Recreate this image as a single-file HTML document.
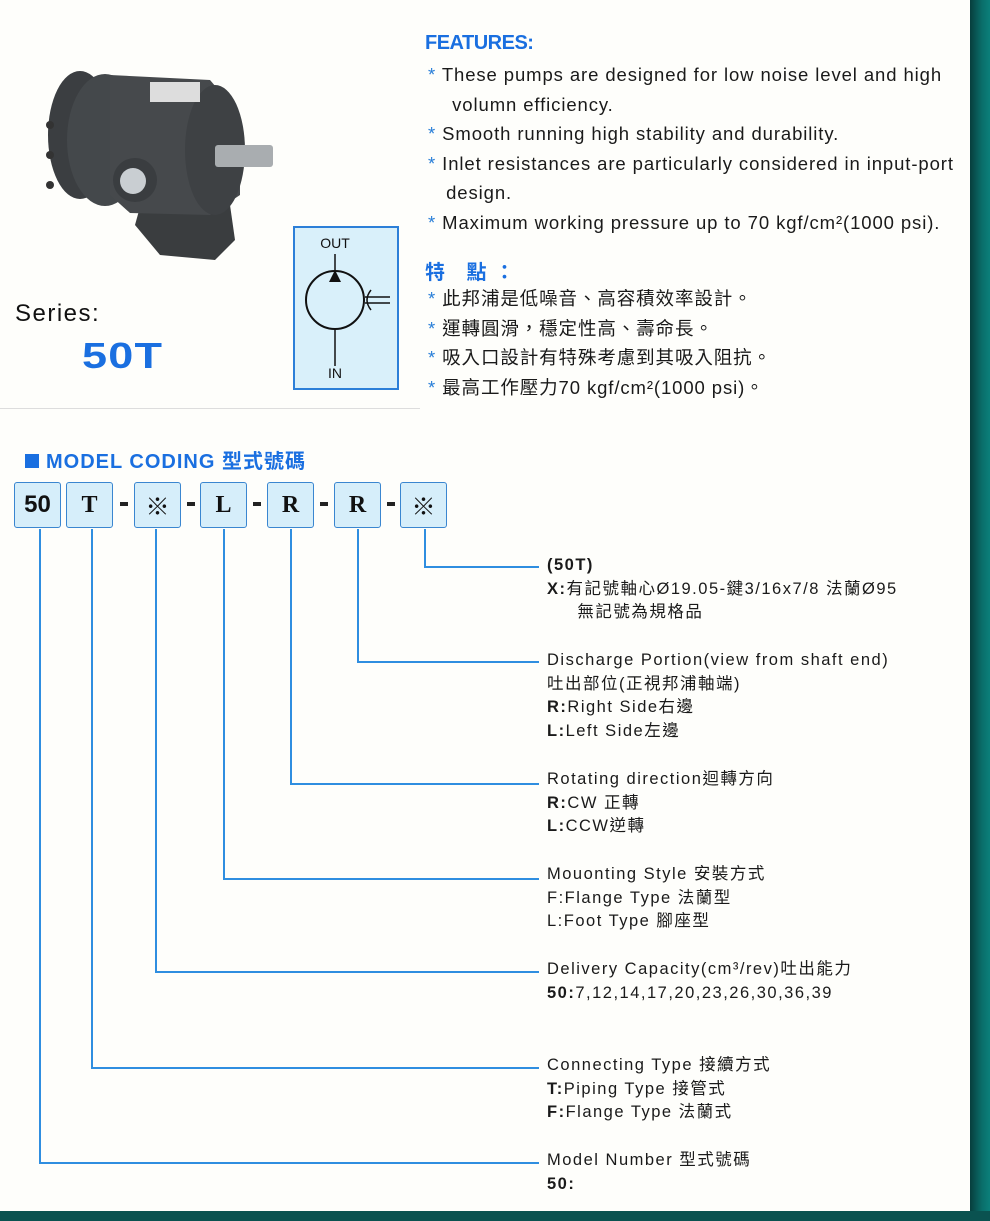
<!DOCTYPE html>
<html><head><meta charset="utf-8"><style>
body{margin:0;width:990px;height:1221px;position:relative;background:#0b5a57;overflow:hidden;font-family:"Liberation Sans","Noto Sans CJK TC",sans-serif;}
#page{position:absolute;left:0;top:0;width:970px;height:1211px;background:#fefefb;}
#rb{position:absolute;left:970px;top:0;width:20px;height:1221px;background:linear-gradient(90deg,#073e3d,#0a6e6a 60%,#0b7f7a);}
#bb{position:absolute;left:0;top:1211px;width:990px;height:10px;background:#0a5250;}
.a{position:absolute;white-space:nowrap;}
.f{font-size:18.5px;letter-spacing:0.9px;color:#1a1a1a;line-height:29.5px;}
.st{color:#2a7fd8;}
.box{position:absolute;top:482px;width:45px;height:44px;border:1.5px solid #3a86d0;border-radius:3px;background:#d6eefa;font:bold 24px "Liberation Serif",serif;text-align:center;line-height:44px;color:#111;}
.dash{position:absolute;top:502px;width:8px;height:4px;background:#222;}
.v{position:absolute;width:1.5px;background:#2f8ee0;}
.h{position:absolute;height:1.5px;background:#2f8ee0;}
.lb{position:absolute;left:547px;font-size:16.5px;letter-spacing:1.5px;line-height:23.7px;color:#1a1a1a;white-space:nowrap;}
</style></head><body>
<div id="page"></div><div id="rb"></div><div id="bb"></div>
<div class="a" style="left:0;top:408px;width:420px;height:1px;background:#ddd"></div>

<svg class="a" style="left:40px;top:55px" width="240" height="210" viewBox="0 0 240 210">
 <path d="M95 170 L100 152 L150 140 L190 150 L195 185 L175 205 L120 200 Z" fill="#3a3d3f"/>
 <ellipse cx="40" cy="80" rx="32" ry="64" fill="#3b3e41"/>
 <ellipse cx="65" cy="85" rx="38" ry="66" fill="#44484b"/>
 <path d="M70 20 L170 25 L200 60 L200 140 L170 160 L90 158 L70 140Z" fill="#46494c"/>
 <ellipse cx="175" cy="95" rx="30" ry="65" fill="#3e4144"/>
 <rect x="110" y="27" width="50" height="20" fill="#ddd"/>
 <rect x="175" y="90" width="58" height="22" rx="3" fill="#a9adb0"/>
 <circle cx="95" cy="125" r="22" fill="#3a3d40"/>
 <circle cx="93" cy="126" r="13" fill="#c9ced2"/>
 <circle cx="10" cy="70" r="4" fill="#333"/><circle cx="10" cy="100" r="4" fill="#333"/><circle cx="10" cy="130" r="4" fill="#333"/>
</svg>
<div class="a" style="left:15px;top:300px;font-size:24px;letter-spacing:1.5px;color:#111;">Series:</div>
<div class="a" style="left:82px;top:335px;font:bold 36px 'Liberation Sans',sans-serif;letter-spacing:1px;color:#1a6fe0;transform:scaleX(1.25);transform-origin:left">50T</div>

<svg class="a" style="left:293px;top:226px" width="107" height="165">
 <rect x="1" y="1" width="104" height="162" fill="#d9f0fa" stroke="#2c7fd8" stroke-width="2"/>
 <text x="42" y="22" font-family="Liberation Sans" font-size="14" text-anchor="middle" fill="#111">OUT</text>
 <text x="42" y="152" font-family="Liberation Sans" font-size="14" text-anchor="middle" fill="#111">IN</text>
 <line x1="42" y1="28" x2="42" y2="44" stroke="#111" stroke-width="1.5"/>
 <line x1="42" y1="104" x2="42" y2="140" stroke="#111" stroke-width="1.5"/>
 <circle cx="42" cy="74" r="29" fill="none" stroke="#111" stroke-width="2"/>
 <path d="M36 56 L48 56 L42 44Z" fill="#111"/>
 <path d="M78 64 Q70 74 78 84" fill="none" stroke="#111" stroke-width="1.5"/>
 <line x1="72" y1="71" x2="97" y2="71" stroke="#111" stroke-width="1.5"/>
 <line x1="72" y1="77" x2="97" y2="77" stroke="#111" stroke-width="1.5"/>
</svg>

<div class="a" style="left:425px;top:32px;font-weight:bold;font-size:20px;color:#1a6fe0;letter-spacing:-0.5px">FEATURES:</div>
<div class="a f" style="left:428px;top:60px">
<span class="st">*</span> These pumps are designed for low noise level and high<br>
&nbsp;&nbsp;&nbsp;&nbsp;volumn efficiency.<br>
<span class="st">*</span> Smooth running high stability and durability.<br>
<span class="st">*</span> Inlet resistances are particularly considered in input-port<br>
&nbsp;&nbsp;&nbsp;design.<br>
<span class="st">*</span> Maximum working pressure up to 70 kgf/cm²(1000 psi).
</div>
<div class="a" style="left:425px;top:256px;font-weight:bold;font-size:20px;color:#1a6fe0;letter-spacing:8px">特 點：</div>
<div class="a f" style="left:428px;top:284px">
<span class="st">*</span> 此邦浦是低噪音、高容積效率設計。<br>
<span class="st">*</span> 運轉圓滑，穩定性高、壽命長。<br>
<span class="st">*</span> 吸入口設計有特殊考慮到其吸入阻抗。<br>
<span class="st">*</span> 最高工作壓力70 kgf/cm²(1000 psi)。
</div>

<div class="a" style="left:25px;top:445px;font-weight:bold;font-size:20px;letter-spacing:1px;color:#1a6fe0;"><span style="display:inline-block;width:14px;height:14px;background:#1a6fe0;margin-right:7px"></span>MODEL CODING 型式號碼</div>
<div class="box" style="left:14px;font-family:'Liberation Sans',sans-serif">50</div>
<div class="box" style="left:66px">T</div>
<div class="box" style="left:134px;font-weight:normal;font-family:'Noto Sans CJK TC',sans-serif">※</div>
<div class="box" style="left:200px">L</div>
<div class="box" style="left:267px">R</div>
<div class="box" style="left:334px">R</div>
<div class="box" style="left:400px;font-weight:normal;font-family:'Noto Sans CJK TC',sans-serif">※</div>
<div class="dash" style="left:120px"></div><div class="dash" style="left:187px"></div><div class="dash" style="left:253px"></div><div class="dash" style="left:320px"></div><div class="dash" style="left:387px"></div>

<div class="v" style="left:39px;top:529px;height:634px"></div><div class="h" style="left:39px;top:1162px;width:500px"></div>
<div class="v" style="left:91px;top:529px;height:539px"></div><div class="h" style="left:91px;top:1067px;width:448px"></div>
<div class="v" style="left:155px;top:529px;height:443px"></div><div class="h" style="left:155px;top:971px;width:384px"></div>
<div class="v" style="left:223px;top:529px;height:350px"></div><div class="h" style="left:223px;top:878px;width:316px"></div>
<div class="v" style="left:290px;top:529px;height:255px"></div><div class="h" style="left:290px;top:783px;width:249px"></div>
<div class="v" style="left:357px;top:529px;height:133px"></div><div class="h" style="left:357px;top:661px;width:182px"></div>
<div class="v" style="left:424px;top:529px;height:38px"></div><div class="h" style="left:424px;top:566px;width:115px"></div>

<div class="lb" style="top:554px"><b>(50T)</b><br><b>X:</b>有記號軸心Ø19.05-鍵3/16x7/8 法蘭Ø95<br>&nbsp;&nbsp;&nbsp;&nbsp;&nbsp;無記號為規格品</div>
<div class="lb" style="top:649px">Discharge Portion(view from shaft end)<br>吐出部位(正視邦浦軸端)<br><b>R:</b>Right Side右邊<br><b>L:</b>Left Side左邊</div>
<div class="lb" style="top:768px">Rotating direction迴轉方向<br><b>R:</b>CW 正轉<br><b>L:</b>CCW逆轉</div>
<div class="lb" style="top:863px">Mouonting Style 安裝方式<br>F:Flange Type 法蘭型<br>L:Foot Type 腳座型</div>
<div class="lb" style="top:958px">Delivery Capacity(cm³/rev)吐出能力<br><b>50:</b>7,12,14,17,20,23,26,30,36,39</div>
<div class="lb" style="top:1054px">Connecting Type 接續方式<br><b>T:</b>Piping Type 接管式<br><b>F:</b>Flange Type 法蘭式</div>
<div class="lb" style="top:1149px">Model Number 型式號碼<br><b>50:</b></div>
</body></html>
